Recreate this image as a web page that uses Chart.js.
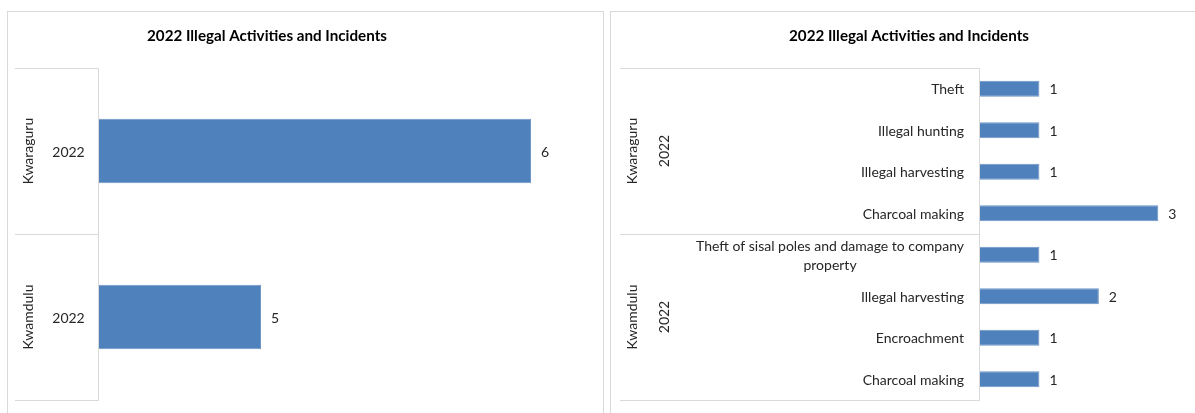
<!DOCTYPE html>
<html>
<head>
<meta charset="utf-8">
<script src="https://cdn.jsdelivr.net/npm/chart.js@4/dist/chart.umd.min.js"></script>
<style>
    body { margin: 0; background: #fff; width: 1195px; height: 413px; overflow: hidden; position: relative; }
    .panel { position: absolute; border: 1px solid #d9d9d9; box-sizing: border-box; }
    #p1 { left: 7px; top: 11px; width: 597px; height: 430px; }
    #p2 { left: 610px; top: 11px; width: 620px; height: 430px; }
    canvas { position: absolute; }
    #c1 { left: 8px; top: 12px; }
    #c2 { left: 611px; top: 12px; }
</style>
</head>
<body>
<div class="panel" id="p1"></div>
<div class="panel" id="p2"></div>
<canvas id="c1" width="594" height="401"></canvas>
<canvas id="c2" width="584" height="401"></canvas>
<script>
const TITLE = "2022 Illegal Activities and Incidents";

// left chart: totals per area
const leftGroups = ["Kwaraguru", "Kwamdulu"];
const leftYears  = ["2022", "2022"];
const leftValues = [6, 5];
const leftRange  = [4.4, 6.2];   // Excel picked a non-zero axis start

// right chart: incidents by activity
const rightGroups = ["Kwaraguru", "Kwaraguru", "Kwaraguru", "Kwaraguru",
                     "Kwamdulu", "Kwamdulu", "Kwamdulu", "Kwamdulu"];
const rightYears  = ["2022", "2022", "2022", "2022", "2022", "2022", "2022", "2022"];
const rightActivities = [
    "Theft", "Illegal hunting", "Illegal harvesting", "Charcoal making",
    ["Theft of sisal poles and damage to company", "property"],
    "Illegal harvesting", "Encroachment", "Charcoal making",
];
const rightValues = [1, 1, 1, 3, 1, 2, 1, 1];
const rightRange  = [0, 3.5];

const FONT = "Lato, 'Open Sans', sans-serif";
const BLUE = "#4f81bd";

// runs of equal keys -> [start, end)
function runs(keys) {
    const out = [];
    let s = 0;
    for (let i = 1; i <= keys.length; i++) {
        if (i === keys.length || keys[i] !== keys[s]) {
            out.push([s, i, keys[s]]);
            s = i;
        }
    }
    return out;
}

const boxes = {
    id: "boxes",
    afterDraw(chart) {
        const o = chart.options.plugins.boxes;
        const { ctx, chartArea: a } = chart;
        const y = chart.scales.y;
        const n = o.groups.length;
        const edge = i => i === 0 ? a.top : i === n ? a.bottom
            : (y.getPixelForValue(i - 1) + y.getPixelForValue(i)) / 2;

        ctx.save();
        ctx.strokeStyle = "#d9d9d9";
        ctx.lineWidth = 1;
        const lx = Math.round(a.left) - 0.5;
        ctx.beginPath();
        ctx.moveTo(lx, Math.round(a.top) + 0.5);
        ctx.lineTo(lx, Math.round(a.bottom) + 0.5);
        const gr = runs(o.groups);
        const hs = [0, ...gr.map(r => r[1])];
        for (const h of hs) {
            const yy = Math.round(edge(h)) + 0.5;
            ctx.moveTo(o.boxLeft, yy);
            ctx.lineTo(lx, yy);
        }
        ctx.stroke();

        ctx.fillStyle = "#262626";
        ctx.font = "14px " + FONT;
        ctx.textBaseline = "middle";

        const rotated = (text, x, yc) => {
            ctx.save();
            ctx.translate(x, yc);
            ctx.rotate(-Math.PI / 2);
            ctx.textAlign = "center";
            ctx.fillText(text, 0, 0);
            ctx.restore();
        };

        for (const [s, e, name] of gr) {
            rotated(name, o.groupX, (edge(s) + edge(e)) / 2);
        }
        const yr = runs(o.groups.map((g, i) => g + "|" + o.years[i]));
        for (const [s, e] of yr) {
            const yc = (edge(s) + edge(e)) / 2;
            if (o.yearRotated) {
                rotated(o.years[s], o.yearX, yc);
            } else {
                ctx.textAlign = "center";
                ctx.fillText(o.years[s], o.yearX, yc + 1);
            }
        }

        if (o.cats) {
            ctx.textAlign = "center";
            o.cats.forEach((label, i) => {
                const lines = Array.isArray(label) ? label : [label];
                const w = Math.max(...lines.map(t => ctx.measureText(t).width));
                const cx = o.catX - w / 2;
                const yc = y.getPixelForValue(i);
                lines.forEach((t, k) => {
                    ctx.fillText(t, cx, yc + 1 + (k - (lines.length - 1) / 2) * 19);
                });
            });
        }

        // value labels
        ctx.textAlign = "left";
        const ds = chart.data.datasets[0];
        chart.getDatasetMeta(0).data.forEach((bar, i) => {
            ctx.fillText(String(ds.data[i]), bar.x + 10, bar.y + 1);
        });

        // title
        ctx.fillStyle = "#000";
        ctx.font = "bold 15.2px " + FONT;
        ctx.textAlign = "center";
        ctx.fillText(TITLE, o.titleX, o.titleY);
        ctx.restore();
    },
};

function drawChart(id, values, range, pad, plug) {
    new Chart(document.getElementById(id), {
        type: "bar",
        data: {
            labels: values.map((v, i) => i),
            datasets: [{
                data: values,
                backgroundColor: BLUE,
                borderColor: "#6d95c6",
                borderWidth: 1,
                barPercentage: 0.39,
                categoryPercentage: 1,
            }],
        },
        options: {
            indexAxis: "y",
            responsive: false,
            animation: false,
            devicePixelRatio: 1,
            layout: { padding: pad },
            scales: {
                x: { display: false, min: range[0], max: range[1] },
                y: { display: false },
            },
            plugins: {
                legend: { display: false },
                tooltip: { enabled: false },
                boxes: plug,
            },
        },
        plugins: [boxes],
    });
}

drawChart("c1", leftValues, leftRange,
    { left: 91, right: 17, top: 56, bottom: 13 },
    { groups: leftGroups, years: leftYears, yearRotated: false,
      boxLeft: 7, groupX: 20, yearX: 60.5, titleX: 259, titleY: 24 });

drawChart("c2", rightValues, rightRange,
    { left: 369, right: 7, top: 56, bottom: 13 },
    { groups: rightGroups, years: rightYears, yearRotated: true, cats: rightActivities,
      catX: 353, boxLeft: 9, groupX: 21, yearX: 53.5, titleX: 298, titleY: 24 });
</script>
</body>
</html>
